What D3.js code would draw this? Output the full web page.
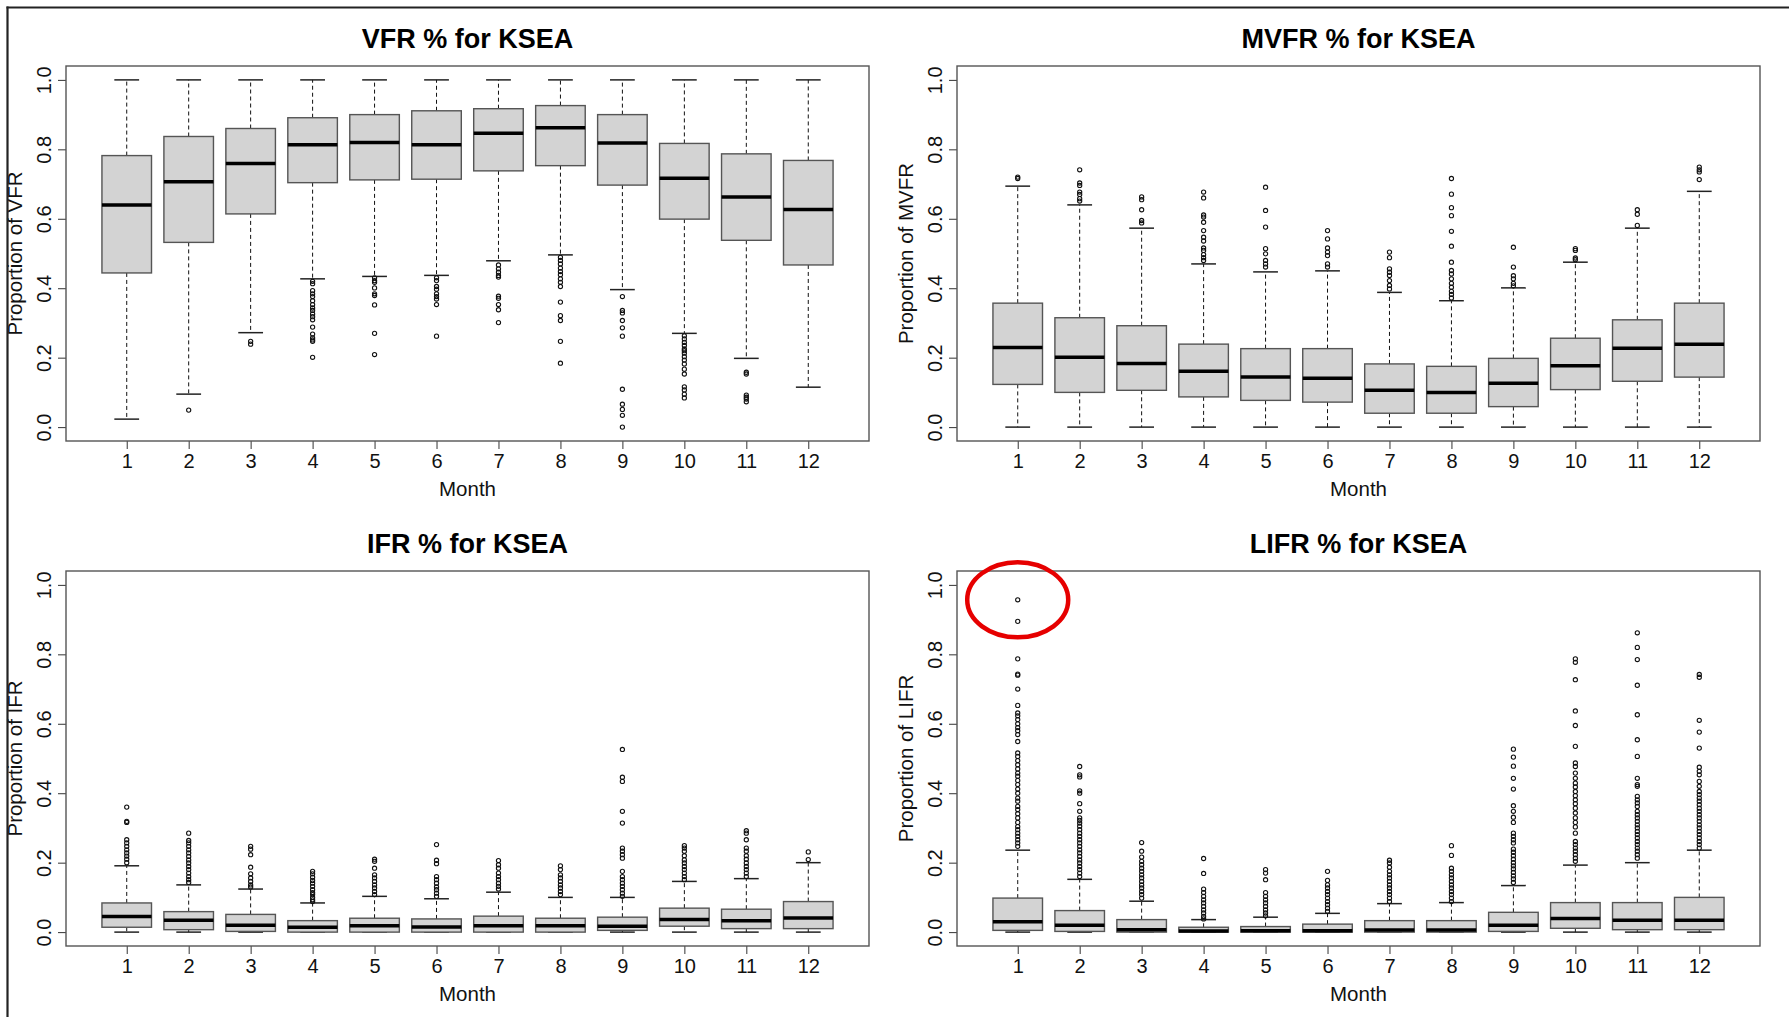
<!DOCTYPE html>
<html>
<head>
<meta charset="utf-8">
<script src="https://cdn.jsdelivr.net/npm/d3@7"></script>
<style>
  body { margin: 0; background: #fff; }
  svg { display: block; font-family: "Liberation Sans", Arial, sans-serif; }
</style>
</head>
<body>
<svg id="chart"></svg>
<script>
let width = 1789, height = 1017

let months = [1, 2, 3, 4, 5, 6, 7, 8, 9, 10, 11, 12]
let yTicks = [0, 0.2, 0.4, 0.6, 0.8, 1.0]

// rows are [lower whisker, Q1, median, Q3, upper whisker] per month
let vfrStats = [
    [0.023, 0.444, 0.640, 0.782, 1.0],
    [0.095, 0.532, 0.707, 0.837, 1.0],
    [0.272, 0.614, 0.759, 0.860, 1.0],
    [0.427, 0.704, 0.813, 0.891, 1.0],
    [0.434, 0.712, 0.820, 0.900, 1.0],
    [0.437, 0.714, 0.813, 0.911, 1.0],
    [0.479, 0.738, 0.846, 0.917, 1.0],
    [0.496, 0.753, 0.862, 0.926, 1.0],
    [0.396, 0.697, 0.818, 0.900, 1.0],
    [0.270, 0.599, 0.717, 0.817, 1.0],
    [0.198, 0.538, 0.663, 0.787, 1.0],
    [0.115, 0.467, 0.627, 0.768, 1.0]
]
let vfrOutliers = [
    [],
    [0.049],
    [0.247, 0.239],
    [0.42, 0.413, 0.393, 0.384, 0.376, 0.364, 0.353, 0.343, 0.336, 0.326, 0.318, 0.309, 0.288, 0.268, 0.257, 0.251, 0.247, 0.201],
    [0.43, 0.422, 0.417, 0.401, 0.384, 0.379, 0.352, 0.270, 0.209],
    [0.43, 0.422, 0.405, 0.397, 0.384, 0.376, 0.369, 0.353, 0.262],
    [0.467, 0.456, 0.446, 0.437, 0.432, 0.377, 0.371, 0.353, 0.338, 0.301],
    [0.489, 0.48, 0.470, 0.458, 0.448, 0.439, 0.427, 0.417, 0.405, 0.36, 0.321, 0.307, 0.247, 0.184],
    [0.376, 0.336, 0.329, 0.307, 0.286, 0.262, 0.109, 0.066, 0.051, 0.034, 0.0],
    [0.263, 0.254, 0.244, 0.235, 0.225, 0.22, 0.213, 0.203, 0.193, 0.182, 0.167, 0.153, 0.116, 0.107, 0.095, 0.084],
    [0.158, 0.153, 0.092, 0.086, 0.081, 0.073],
    []
]

let mvfrStats = [
    [0, 0.123, 0.229, 0.357, 0.694],
    [0, 0.100, 0.201, 0.315, 0.640],
    [0, 0.106, 0.183, 0.292, 0.573],
    [0, 0.087, 0.161, 0.239, 0.470],
    [0, 0.077, 0.144, 0.226, 0.447],
    [0, 0.072, 0.141, 0.226, 0.450],
    [0, 0.040, 0.106, 0.182, 0.388],
    [0, 0.040, 0.100, 0.175, 0.364],
    [0, 0.059, 0.126, 0.198, 0.401],
    [0, 0.108, 0.177, 0.256, 0.475],
    [0, 0.132, 0.227, 0.309, 0.573],
    [0, 0.144, 0.239, 0.357, 0.679]
]
let mvfrOutliers = [
    [0.72, 0.716],
    [0.741, 0.703, 0.696, 0.677, 0.67, 0.658, 0.651],
    [0.663, 0.655, 0.626, 0.595, 0.588],
    [0.677, 0.66, 0.611, 0.605, 0.590, 0.566, 0.547, 0.536, 0.516, 0.509, 0.497, 0.488, 0.48],
    [0.691, 0.624, 0.576, 0.514, 0.499, 0.48, 0.47, 0.461],
    [0.566, 0.542, 0.516, 0.504, 0.494, 0.47, 0.461],
    [0.504, 0.488, 0.456, 0.446, 0.437, 0.422, 0.408, 0.398],
    [0.716, 0.671, 0.632, 0.609, 0.564, 0.521, 0.475, 0.451, 0.441, 0.427, 0.414, 0.403, 0.391, 0.382, 0.372],
    [0.518, 0.461, 0.436, 0.427, 0.414, 0.407],
    [0.514, 0.509, 0.487, 0.482],
    [0.626, 0.613, 0.581],
    [0.749, 0.741, 0.735, 0.713]
]

let ifrStats = [
    [0, 0.014, 0.045, 0.084, 0.191],
    [0, 0.007, 0.034, 0.059, 0.136],
    [0, 0.002, 0.020, 0.051, 0.124],
    [0, 0, 0.014, 0.033, 0.084],
    [0, 0, 0.018, 0.040, 0.103],
    [0, 0, 0.015, 0.038, 0.096],
    [0, 0, 0.018, 0.046, 0.115],
    [0, 0, 0.018, 0.040, 0.100],
    [0, 0.005, 0.017, 0.043, 0.100],
    [0, 0.017, 0.036, 0.069, 0.146],
    [0, 0.010, 0.033, 0.066, 0.154],
    [0, 0.010, 0.041, 0.088, 0.200]
]
let ifrOutliers = [
    [0.36, 0.319, 0.316, 0.266, 0.257, 0.247, 0.237, 0.228, 0.219, 0.21, 0.2],
    [0.285, 0.264, 0.257, 0.247, 0.237, 0.228, 0.218, 0.208, 0.199, 0.189, 0.18, 0.17, 0.16, 0.151, 0.143],
    [0.247, 0.239, 0.223, 0.187, 0.168, 0.156, 0.146, 0.136, 0.13],
    [0.175, 0.168, 0.158, 0.149, 0.141, 0.132, 0.122, 0.114, 0.108, 0.1, 0.093, 0.088],
    [0.21, 0.204, 0.184, 0.165, 0.156, 0.146, 0.136, 0.127, 0.117, 0.108],
    [0.252, 0.207, 0.197, 0.16, 0.151, 0.141, 0.13, 0.122, 0.112, 0.103],
    [0.206, 0.194, 0.184, 0.17, 0.16, 0.151, 0.141, 0.132, 0.124],
    [0.191, 0.18, 0.165, 0.156, 0.146, 0.136, 0.127, 0.117, 0.108],
    [0.526, 0.446, 0.434, 0.348, 0.314, 0.242, 0.233, 0.223, 0.213, 0.175, 0.16, 0.151, 0.141, 0.132, 0.122, 0.112, 0.103],
    [0.249, 0.242, 0.233, 0.22, 0.208, 0.199, 0.189, 0.18, 0.17, 0.16, 0.151],
    [0.292, 0.285, 0.266, 0.242, 0.233, 0.22, 0.21, 0.199, 0.189, 0.18, 0.17, 0.16],
    [0.231, 0.209]
]

let lifrStats = [
    [0, 0.005, 0.030, 0.098, 0.236],
    [0, 0.002, 0.020, 0.062, 0.152],
    [0, 0, 0.007, 0.036, 0.089],
    [0, 0, 0.003, 0.014, 0.036],
    [0, 0, 0.004, 0.016, 0.043],
    [0, 0, 0.004, 0.023, 0.054],
    [0, 0, 0.006, 0.033, 0.082],
    [0, 0, 0.006, 0.033, 0.085],
    [0, 0.002, 0.020, 0.057, 0.134],
    [0, 0.011, 0.039, 0.085, 0.193],
    [0, 0.007, 0.034, 0.085, 0.200],
    [0, 0.007, 0.034, 0.100, 0.236]
]
let lifrOutliers = [
    [0.957, 0.895, 0.787, 0.743, 0.74, 0.700, 0.653, 0.631, 0.623, 0.612, 0.6, 0.589, 0.58, 0.569, 0.549, 0.516, 0.506, 0.494, 0.482, 0.47, 0.458, 0.449, 0.437, 0.425, 0.412, 0.4, 0.386, 0.377, 0.362, 0.353, 0.341, 0.329, 0.316, 0.304, 0.295, 0.285, 0.276, 0.266, 0.257, 0.247],
    [0.477, 0.453, 0.447, 0.407, 0.4, 0.37, 0.348, 0.329, 0.322, 0.314, 0.305, 0.295, 0.285, 0.276, 0.266, 0.257, 0.247, 0.237, 0.228, 0.218, 0.208, 0.199, 0.189, 0.18, 0.17, 0.16],
    [0.258, 0.233, 0.216, 0.204, 0.194, 0.184, 0.175, 0.165, 0.156, 0.146, 0.136, 0.127, 0.117, 0.108, 0.098],
    [0.212, 0.169, 0.124, 0.114, 0.103, 0.093, 0.084, 0.074, 0.064, 0.055, 0.045, 0.038],
    [0.18, 0.17, 0.151, 0.114, 0.103, 0.093, 0.084, 0.074, 0.064, 0.055, 0.047],
    [0.175, 0.149, 0.136, 0.127, 0.117, 0.108, 0.098, 0.088, 0.079, 0.069, 0.06],
    [0.207, 0.199, 0.187, 0.175, 0.165, 0.156, 0.146, 0.136, 0.127, 0.117, 0.108, 0.098, 0.088],
    [0.249, 0.221, 0.184, 0.175, 0.165, 0.156, 0.146, 0.136, 0.127, 0.117, 0.108, 0.098, 0.088],
    [0.527, 0.504, 0.478, 0.443, 0.412, 0.364, 0.348, 0.331, 0.316, 0.285, 0.276, 0.266, 0.257, 0.239, 0.23, 0.22, 0.21, 0.2, 0.191, 0.182, 0.172, 0.162, 0.153, 0.143],
    [0.787, 0.777, 0.727, 0.637, 0.595, 0.535, 0.487, 0.477, 0.458, 0.443, 0.429, 0.418, 0.405, 0.393, 0.381, 0.37, 0.357, 0.343, 0.329, 0.316, 0.303, 0.285, 0.261, 0.252, 0.242, 0.233, 0.223, 0.213, 0.204],
    [0.862, 0.82, 0.785, 0.711, 0.626, 0.554, 0.506, 0.443, 0.425, 0.42, 0.391, 0.381, 0.372, 0.362, 0.348, 0.338, 0.329, 0.319, 0.309, 0.3, 0.29, 0.281, 0.271, 0.261, 0.252, 0.242, 0.233, 0.223, 0.213],
    [0.742, 0.734, 0.61, 0.576, 0.53, 0.475, 0.463, 0.453, 0.434, 0.42, 0.405, 0.396, 0.386, 0.377, 0.367, 0.357, 0.348, 0.338, 0.329, 0.319, 0.309, 0.3, 0.29, 0.281, 0.271, 0.261, 0.252, 0.242]
]

let panels = [
    {title: "VFR % for KSEA", ylab: "Proportion of VFR", stats: vfrStats, out: vfrOutliers, x0: 66, y0: 66},
    {title: "MVFR % for KSEA", ylab: "Proportion of MVFR", stats: mvfrStats, out: mvfrOutliers, x0: 957, y0: 66},
    {title: "IFR % for KSEA", ylab: "Proportion of IFR", stats: ifrStats, out: ifrOutliers, x0: 66, y0: 571},
    {title: "LIFR % for KSEA", ylab: "Proportion of LIFR", stats: lifrStats, out: lifrOutliers, x0: 957, y0: 571},
]
let pw = 803, ph = 375

let svg = d3.select("#chart").attr("width", width).attr("height", height)

svg.append("rect").attr("width", width).attr("height", height).attr("fill", "#fff")

const drawPanel = (p) => {
    let g = svg.append("g").attr("transform", `translate(${p.x0},${p.y0})`)

    // R style: xlim 0.5..12.5 and ylim 0..1, each padded 4%
    let x = d3.scaleLinear().domain([0.02, 12.98]).range([0, pw])
    let y = d3.scaleLinear().domain([-0.04, 1.04]).range([ph, 0])
    let bw = x(0.4) - x(0)

    g.append("text")
        .attr("x", pw / 2).attr("y", -18)
        .attr("text-anchor", "middle")
        .attr("font-size", 27).attr("font-weight", "bold")
        .text(p.title)

    let xAxis = g.append("g")
        .attr("transform", `translate(0,${ph})`)
        .call(d3.axisBottom(x).tickValues(months).tickSize(8).tickPadding(4).tickFormat(d3.format("d")))
    xAxis.select(".domain").remove()
    xAxis.selectAll("text").attr("font-size", 20).attr("font-family", null).attr("fill", "#111")
        .attr("dy", null).attr("y", 26.5)
    xAxis.selectAll("line").attr("stroke", "#333")

    let yAxis = g.append("g")
        .call(d3.axisLeft(y).tickValues(yTicks).tickSize(8).tickFormat(d3.format(".1f")))
    yAxis.select(".domain").remove()
    yAxis.selectAll("text").attr("font-size", 20).attr("font-family", null).attr("fill", "#111")
        .attr("x", 0).attr("dy", null).attr("y", -15)
        .attr("text-anchor", "middle")
        .attr("transform", "rotate(-90)")
    yAxis.selectAll("line").attr("stroke", "#333")

    g.append("text")
        .attr("x", pw / 2).attr("y", ph + 55)
        .attr("text-anchor", "middle")
        .attr("font-size", 20.5).attr("fill", "#111")
        .text("Month")

    g.append("text")
        .attr("transform", `translate(-44,${ph / 2}) rotate(-90)`)
        .attr("text-anchor", "middle")
        .attr("font-size", 20.5).attr("fill", "#111")
        .text(p.ylab)

    let boxes = g.selectAll(".box")
        .data(p.stats)
        .enter()
        .append("g")
        .attr("class", "box")
        .attr("transform", (d, i) => `translate(${x(months[i])},0)`)

    // whiskers
    boxes.append("line")
        .attr("y1", d => y(d[3])).attr("y2", d => y(d[4]))
        .attr("stroke", "#111").attr("stroke-dasharray", "4,3")
    boxes.append("line")
        .attr("y1", d => y(d[1])).attr("y2", d => y(d[0]))
        .attr("stroke", "#111").attr("stroke-dasharray", "4,3")
    // staples
    boxes.append("line")
        .attr("x1", -bw / 2).attr("x2", bw / 2)
        .attr("y1", d => y(d[4])).attr("y2", d => y(d[4]))
        .attr("stroke", "#222").attr("stroke-width", 1.5)
    boxes.append("line")
        .attr("x1", -bw / 2).attr("x2", bw / 2)
        .attr("y1", d => y(d[0])).attr("y2", d => y(d[0]))
        .attr("stroke", "#222").attr("stroke-width", 1.5)

    boxes.append("rect")
        .attr("x", -bw).attr("width", 2 * bw)
        .attr("y", d => y(d[3]))
        .attr("height", d => Math.max(y(d[1]) - y(d[3]), 0.5))
        .attr("fill", "#d3d3d3").attr("stroke", "#555").attr("stroke-width", 1.4)

    boxes.append("line")
        .attr("x1", -bw).attr("x2", bw)
        .attr("y1", d => y(d[2])).attr("y2", d => y(d[2]))
        .attr("stroke", "#000").attr("stroke-width", 3.5)

    boxes.each(function(d, i) {
        d3.select(this).selectAll("circle")
            .data(p.out[i])
            .enter()
            .append("circle")
            .attr("cy", v => y(v))
            .attr("r", 2.1)
            .attr("fill", "none")
            .attr("stroke", "#111")
            .attr("stroke-width", 1.1)
    })

    g.append("rect")
        .attr("width", pw).attr("height", ph)
        .attr("fill", "none").attr("stroke", "#555").attr("stroke-width", 1.4)

    return {x, y, g}
}

let drawn = panels.map(drawPanel)

// red ring around the two highest LIFR outliers in January
let lifr = drawn[3]
lifr.g.append("ellipse")
    .attr("cx", lifr.x(1))
    .attr("cy", lifr.y(lifrOutliers[0][0]))
    .attr("rx", 50.5).attr("ry", 37.5)
    .attr("fill", "none").attr("stroke", "#e60000").attr("stroke-width", 4.5)

// outer frame of the screenshot (left and top only)
svg.append("rect").attr("x", 0).attr("y", 0).attr("width", 6.5).attr("height", height).attr("fill", "#fff")
svg.append("line").attr("x1", 7.5).attr("x2", 7.5).attr("y1", 6.5).attr("y2", height)
    .attr("stroke", "#222").attr("stroke-width", 2.2)
svg.append("line").attr("x1", 6.5).attr("x2", width).attr("y1", 7.5).attr("y2", 7.5)
    .attr("stroke", "#222").attr("stroke-width", 2.2)
</script>
</body>
</html>
